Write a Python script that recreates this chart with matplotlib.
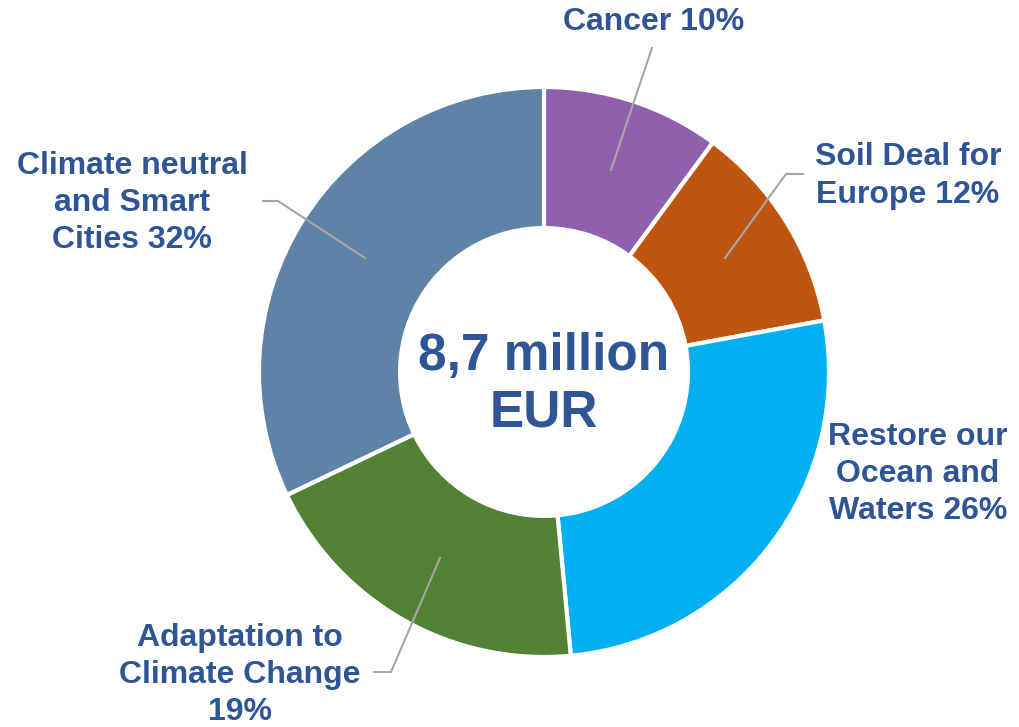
import matplotlib.pyplot as plt

# slice data (clockwise from 12 o'clock)
labels = ["Cancer 10%", "Soil Deal for\nEurope 12%", "Restore our\nOcean and\nWaters 26%",
          "Adaptation to\nClimate Change\n19%", "Climate neutral\nand Smart\nCities 32%"]
values = [10.1, 12.0, 26.4, 19.4, 32.1]
colors = ["#8F60AE", "#BF5610", "#00B0F0", "#548235", "#5F82A7"]
center_text = "8,7 million\nEUR"

W, H = 1020, 727
fig = plt.figure(figsize=(W / 100, H / 100), dpi=100)
ax = fig.add_axes([0, 0, 1, 1])
ax.set_xlim(0, W)
ax.set_ylim(0, H)
ax.set_aspect("equal")
ax.axis("off")

cx, cy, R = 544, H - 372, 285
ax.pie(values, colors=colors, startangle=90, counterclock=False, center=(cx, cy), radius=R,
       wedgeprops=dict(width=R * 0.495, edgecolor="white", linewidth=3))
ax.set_xlim(0, W)
ax.set_ylim(0, H)

txt = "#2F5597"
font = dict(family=["Liberation Sans", "DejaVu Sans"], fontweight="bold", color=txt)

ax.text(cx, H - 385, center_text, ha="center", va="center", fontsize=37, linespacing=1.19, **font)

# label positions (pixel centres) and leader lines
label_pos = [(654, 22), (908, 176), (918, 474), (240, 675), (132, 203)]
leaders = [
    [(652, 48), (611, 170)],
    [(803, 174), (786, 174), (725, 258)],
    None,
    [(374, 672), (391, 672), (440, 558)],
    [(263, 201), (278, 201), (365, 258)],
]

for lab, (px, py), ld in zip(labels, label_pos, leaders):
    ax.text(px, H - py, lab, ha="center", va="center", fontsize=23, linespacing=1.31, **font)
    if ld:
        xs = [p[0] for p in ld]
        ys = [H - p[1] for p in ld]
        ax.plot(xs, ys, color="#A6A6A6", linewidth=1.5, zorder=5)

fig.savefig("out.png", dpi=100)
